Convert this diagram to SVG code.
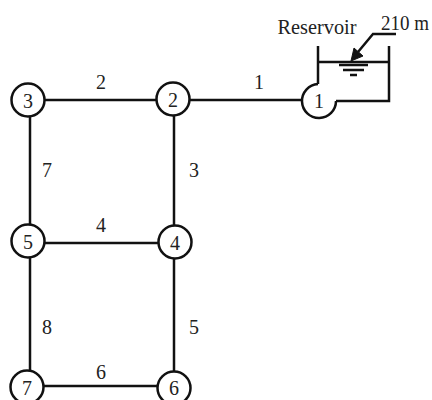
<svg xmlns="http://www.w3.org/2000/svg" width="432" height="400" viewBox="0 0 432 400">
<style>
text{font-family:"Liberation Serif","Times New Roman",serif;font-size:20px;fill:#222;text-anchor:middle}
.n circle{fill:#fff;stroke:#111;stroke-width:2.5}
.c line,.c path{stroke:#111;stroke-width:2.5;fill:none}
.c path.h{fill:#111;stroke-width:1}
</style>
<rect width="432" height="400" fill="#fff"/>
<g id="connectors" class="c">
<line x1="44" y1="100" x2="157" y2="100"/>
<line x1="189" y1="100" x2="303" y2="100"/>
<line x1="30" y1="116" x2="30" y2="226"/>
<line x1="174" y1="115" x2="174" y2="227"/>
<line x1="45" y1="243" x2="158" y2="243"/>
<line x1="30" y1="258" x2="30" y2="371"/>
<line x1="174" y1="259" x2="174" y2="372"/>
<line x1="44" y1="386" x2="158" y2="386"/>
</g>
<g id="reservoir" class="c">
<path d="M318 46V84"/>
<path d="M389 46V101H336"/>
<path d="M318 62H389"/>
<path d="M339 65H368M343 70H364M350 75H357"/>
<path d="M396 34H373L358 52"/>
<path class="h" d="M351 61L354 48L363 56Z"/>
<text x="317" y="34" textLength="79" lengthAdjust="spacingAndGlyphs">Reservoir</text>
<text x="405" y="30" textLength="48" lengthAdjust="spacingAndGlyphs">210 m</text>
</g>
<g id="node1"><path d="M318 84A17 17 0 1 0 336 101" fill="#fff" stroke="#111" stroke-width="2.5"/><text x="319" y="108">1</text></g>
<g id="node2" class="n"><circle cx="173" cy="99" r="16.5"/><text x="173" y="107">2</text></g>
<g id="node3" class="n"><circle cx="28" cy="100" r="16.5"/><text x="28" y="108">3</text></g>
<g id="node4" class="n"><circle cx="175" cy="242" r="16.5"/><text x="175" y="250">4</text></g>
<g id="node5" class="n"><circle cx="28" cy="241" r="16.5"/><text x="28" y="249">5</text></g>
<g id="node6" class="n"><circle cx="174" cy="388" r="16.5"/><text x="174" y="395">6</text></g>
<g id="node7" class="n"><circle cx="27" cy="387" r="16.5"/><text x="27" y="395">7</text></g>
<g id="labels">
<text x="101" y="89">2</text>
<text x="259" y="89">1</text>
<text x="47" y="177">7</text>
<text x="194" y="177">3</text>
<text x="101" y="232">4</text>
<text x="47" y="334">8</text>
<text x="194" y="334">5</text>
<text x="101" y="379">6</text>
</g>
</svg>
